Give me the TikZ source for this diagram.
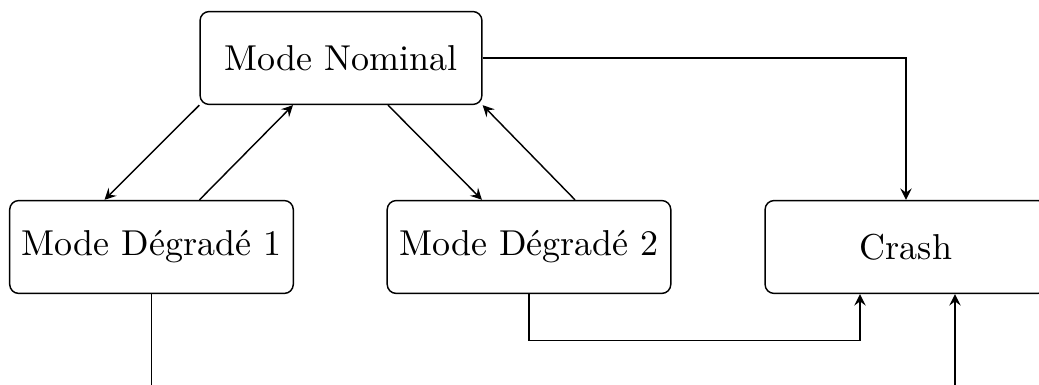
\documentclass[tikz,border=0pt]{standalone}
\usepackage{tikz}
\usetikzlibrary{arrows,calc}

\begin{document}
\begin{tikzpicture}[
    x=0.2778pt, y=-0.2778pt,
    mode/.style={rectangle, draw, rounded corners=2.5pt, minimum width=78.3pt, minimum height=25.8pt, align=center},
    arrow/.style={->, >=stealth}
]
\useasboundingbox (0,0) rectangle (1039,385);
\clip (0,0) rectangle (1039,385);

% Modes
\node[mode] (nominal) at (341,58) {Mode Nominal};
\node[mode] (degr1) at (151.5,247) {Mode Dégradé 1};
\node[mode] (degr2) at (529,247) {Mode Dégradé 2};
\node[mode] (crash) at (906,247) {Crash};

% Transitions
\draw[arrow] (nominal.south west) -- ($(degr1.north)+(-47,0)$);
\draw[arrow] ($(degr1.north)+(48,0)$) -- ($(nominal.south)+(-48,0)$);
\draw[arrow] ($(nominal.south)+(47,0)$) -- ($(degr2.north)+(-47,0)$);
\draw[arrow] ($(degr2.north)+(46,0)$) -- (nominal.south east);
\draw[arrow] (nominal.east) -| (crash.north);
\draw[arrow] (degr2.south) -- ++(0,46.5) -| ($(crash.south)+(-46,0)$);

% Outside links
\coordinate (out1) at (151.5,400);
\coordinate (in1) at (955,400);
\draw (degr1.south) -- (out1);
\draw[arrow] (in1) -- ($(crash.south)+(49,0)$);

\end{tikzpicture}
\end{document}
